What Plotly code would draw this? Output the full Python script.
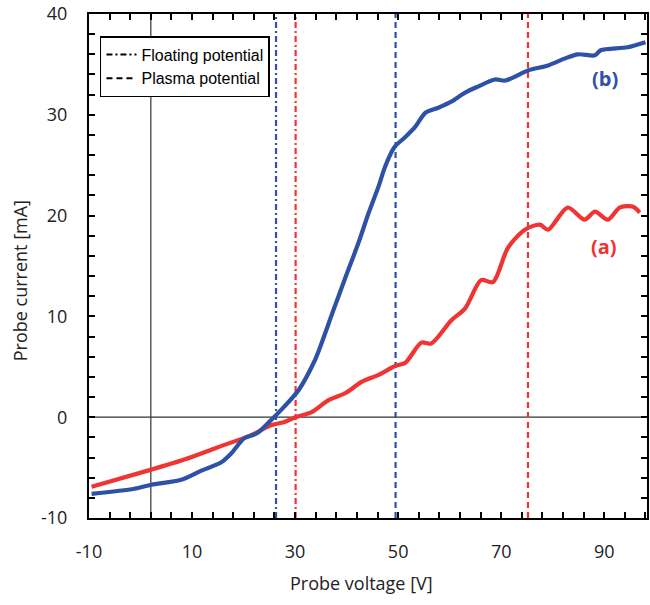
import numpy as np
import plotly.graph_objects as go

# ---- data ----
v_b = [-9.5, -1.2, 2.1, 7.9, 11.8, 15.6, 17.6, 20.1, 22.6, 25.3, 27.8, 30.7, 33.8, 34.6,
       37.5, 39.8, 42.3, 44.3, 46.2, 47.5, 49.3, 51.4, 53.3, 55.3, 57.8, 60.3, 63.0,
       65.5, 68.8, 70.8, 75.2, 79.1, 82.4, 84.9, 88.2, 89.3, 94.5, 98.0]
i_b = [-7.6, -7.1, -6.7, -6.2, -5.3, -4.5, -3.6, -2.1, -1.6, -0.3, 1.0, 2.7, 5.6, 6.6,
       10.7, 13.9, 17.3, 20.3, 22.9, 24.9, 26.8, 27.8, 28.8, 30.2, 30.7, 31.3, 32.2,
       32.8, 33.5, 33.4, 34.4, 34.9, 35.6, 36.0, 35.9, 36.4, 36.7, 37.2]

v_a = [-9.5, 2.1, 8.5, 14.9, 21.4, 25.3, 27.8, 30.1, 33.2, 36.5, 39.8, 42.9, 46.2, 49.5,
       51.4, 54.5, 56.4, 60.3, 63.0, 66.1, 68.4, 71.3, 74.6, 77.5, 79.1, 82.9, 86.2,
       88.2, 90.7, 93.0, 95.5, 96.9]
i_a = [-6.9, -5.2, -4.2, -3.0, -1.8, -0.8, -0.5, 0.0, 0.5, 1.7, 2.4, 3.5, 4.2, 5.1,
       5.4, 7.4, 7.3, 9.6, 10.8, 13.6, 13.4, 16.8, 18.6, 19.1, 18.6, 20.8, 19.6,
       20.4, 19.6, 20.8, 20.9, 20.3]

floating_a = 30.1
floating_b = 26.3
plasma_a = 75.2
plasma_b = 49.5
ref_v = 2.0

x_range = [-10, 98.3]
y_range = [-10, 40]
x_tick_vals = list(range(-10, 99, 4))
x_tick_text = [str(v) if (v + 10) % 20 == 0 else "" for v in x_tick_vals]
y_tick_vals = list(range(-10, 41, 2))
y_tick_text = [str(v) if v % 10 == 0 else "" for v in y_tick_vals]

BLUE = "#2D52A5"
RED = "#F03333"
FONT = "Open Sans"

fig = go.Figure()

# reference lines (axes crossing)
fig.add_trace(go.Scatter(x=x_range, y=[0, 0], mode="lines",
                         line=dict(color="#333333", width=1.3), showlegend=False, hoverinfo="skip"))
fig.add_trace(go.Scatter(x=[ref_v, ref_v], y=y_range, mode="lines",
                         line=dict(color="#333333", width=1.2), showlegend=False, hoverinfo="skip"))

# potential markers
dashdot = "6px,3px,2px,3px"
dash = "6px,4px"
fig.add_trace(go.Scatter(x=[floating_b] * 2, y=y_range, mode="lines",
                         line=dict(color=BLUE, width=2.2, dash=dashdot), showlegend=False, hoverinfo="skip"))
fig.add_trace(go.Scatter(x=[floating_a] * 2, y=y_range, mode="lines",
                         line=dict(color=RED, width=2.2, dash=dashdot), showlegend=False, hoverinfo="skip"))
fig.add_trace(go.Scatter(x=[plasma_b] * 2, y=y_range, mode="lines",
                         line=dict(color=BLUE, width=2.2, dash=dash), showlegend=False, hoverinfo="skip"))
fig.add_trace(go.Scatter(x=[plasma_a] * 2, y=y_range, mode="lines",
                         line=dict(color=RED, width=2.2, dash=dash), showlegend=False, hoverinfo="skip"))

# curves
fig.add_trace(go.Scatter(x=v_a, y=i_a, mode="lines",
                         line=dict(color=RED, width=4.2, shape="spline", smoothing=0.8),
                         showlegend=False))
fig.add_trace(go.Scatter(x=v_b, y=i_b, mode="lines",
                         line=dict(color=BLUE, width=4.2, shape="spline", smoothing=0.8),
                         showlegend=False))

# legend entries
fig.add_trace(go.Scatter(x=[None], y=[None], mode="lines", name="Floating potential",
                         line=dict(color="black", width=2, dash=dashdot)))
fig.add_trace(go.Scatter(x=[None], y=[None], mode="lines", name="Plasma potential",
                         line=dict(color="black", width=2, dash=dash)))

fig.add_annotation(x=90.1, y=33.6, text="<b>(b)</b>", showarrow=False,
                   font=dict(family=FONT, size=20, color=BLUE))
fig.add_annotation(x=89.9, y=16.9, text="<b>(a)</b>", showarrow=False,
                   font=dict(family=FONT, size=20, color=RED))

# axis titles
fig.add_annotation(xref="paper", yref="paper", x=(362 - 89) / 560, y=-(583 - 518) / 504,
                   text="Probe voltage [V]", showarrow=False,
                   font=dict(family=FONT, size=18, color="#222"), yanchor="middle")
fig.add_annotation(xref="paper", yref="paper", x=-(89 - 20) / 560, y=(518 - 281) / 504,
                   text="Probe current [mA]", showarrow=False, textangle=-90,
                   font=dict(family=FONT, size=18, color="#222"), xanchor="center", yanchor="middle")

axis_common = dict(showline=True, linecolor="black", linewidth=2, mirror="ticks",
                   ticks="inside", ticklen=6, tickwidth=1.5, tickcolor="black",
                   showgrid=False, zeroline=False,
                   tickfont=dict(family=FONT, size=18, color="#222"))

fig.update_xaxes(range=x_range, tickmode="array", tickvals=x_tick_vals, ticktext=x_tick_text,
                 ticklabelstandoff=16, **axis_common)
fig.update_yaxes(range=y_range, tickmode="array", tickvals=y_tick_vals, ticktext=y_tick_text,
                 ticklabelstandoff=16, **axis_common)

fig.update_layout(
    width=650, height=605,
    margin=dict(l=89, r=1, t=14, b=87),
    plot_bgcolor="white", paper_bgcolor="white",
    legend=dict(x=(100 - 89) / 560, y=1 - (36 - 14) / 504, xanchor="left", yanchor="top",
                bordercolor="black", borderwidth=1.5, bgcolor="white",
                font=dict(family="Liberation Sans", size=16, color="black"),
                tracegroupgap=0, itemwidth=30),
    hovermode=False,
)

fig.write_html("out.html")
